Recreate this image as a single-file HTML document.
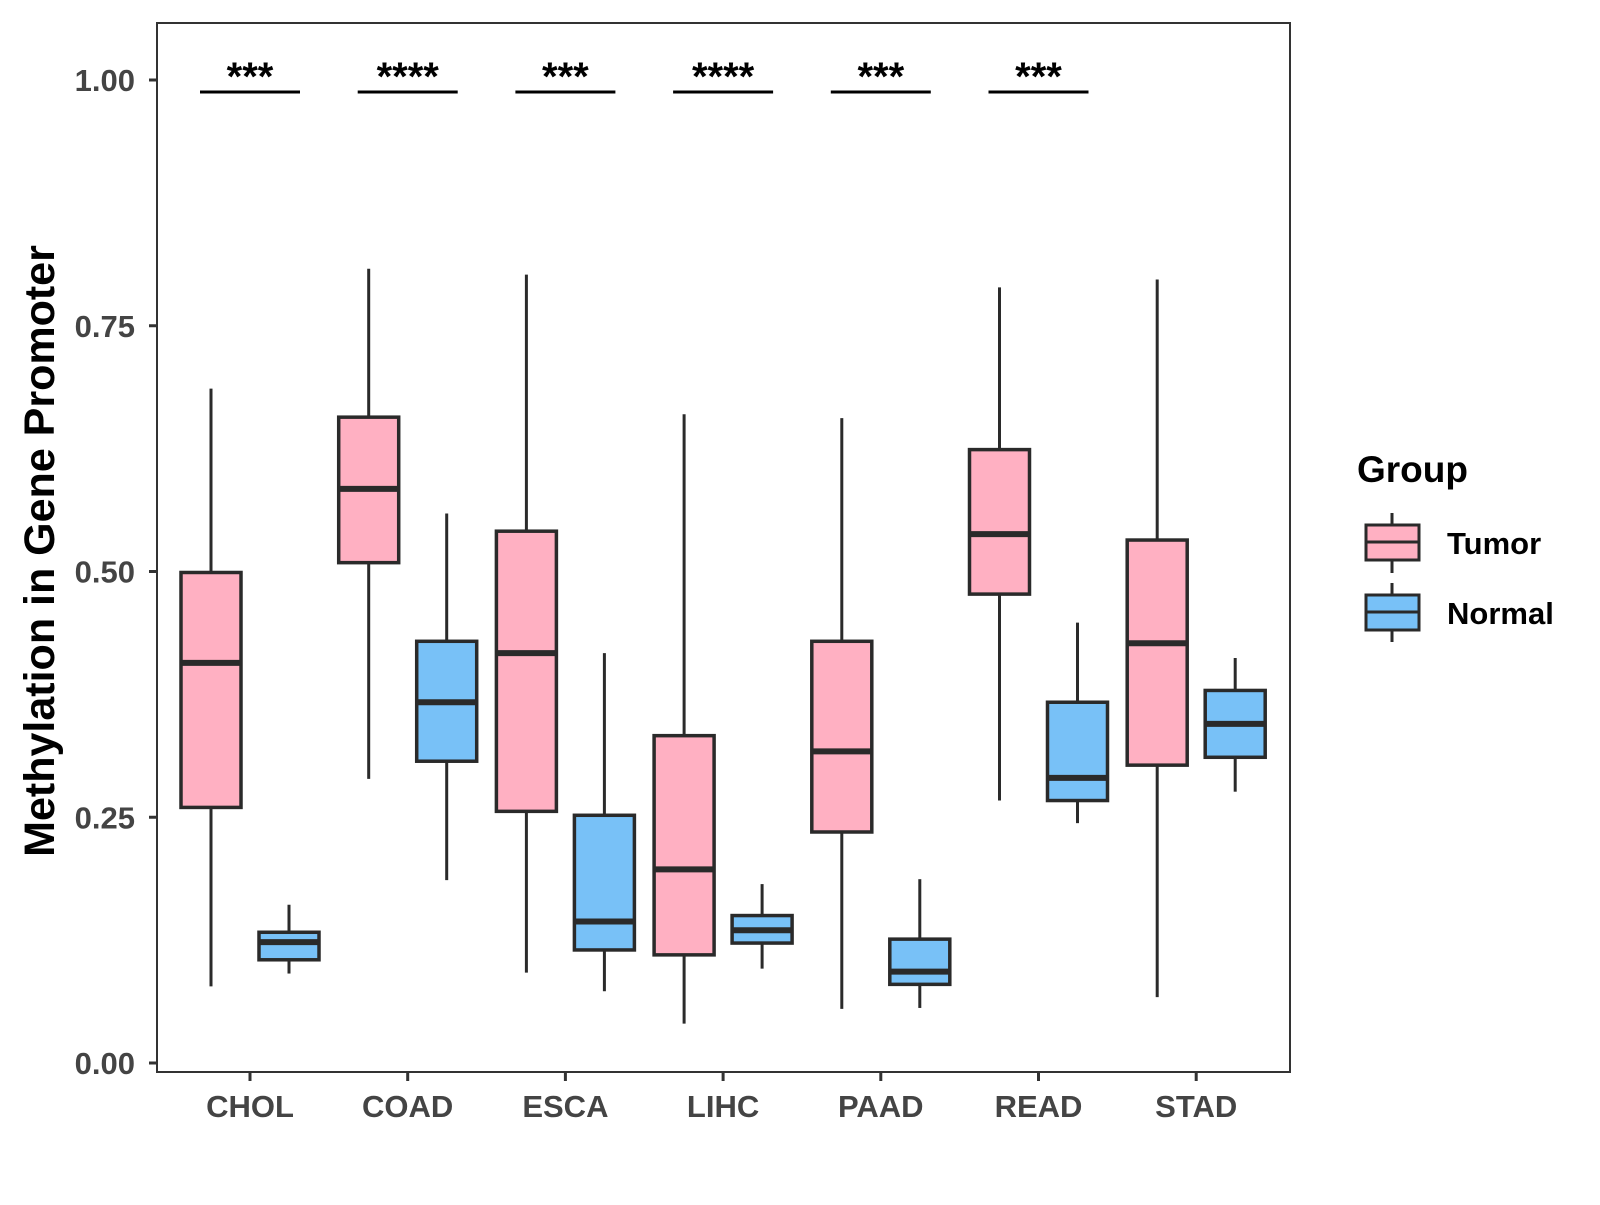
<!DOCTYPE html>
<html><head><meta charset="utf-8"><style>
body{margin:0;background:#fff;}
svg text{font-family:"Liberation Sans",Arial,sans-serif;font-weight:bold;}
</style></head><body>
<svg id="chart" width="1600" height="1200" xmlns="http://www.w3.org/2000/svg">
<rect x="0" y="0" width="1600" height="1200" fill="#fff"/>
<g id="plot"></g>
</svg>
<script>
const categories=["CHOL","COAD","ESCA","LIHC","PAAD","READ","STAD"];
// [lower whisker, Q1, median, Q3, upper whisker]
const tumorStats=[[0.078,0.260,0.407,0.499,0.686],[0.289,0.509,0.584,0.657,0.808],[0.092,0.256,0.417,0.541,0.802],[0.040,0.110,0.197,0.333,0.660],[0.055,0.235,0.317,0.429,0.656],[0.267,0.477,0.538,0.624,0.789],[0.067,0.303,0.427,0.532,0.797]];
const normalStats=[[0.091,0.105,0.123,0.133,0.161],[0.186,0.307,0.367,0.429,0.559],[0.073,0.115,0.144,0.252,0.417],[0.096,0.122,0.135,0.150,0.182],[0.056,0.080,0.093,0.126,0.187],[0.244,0.267,0.290,0.367,0.448],[0.276,0.311,0.345,0.379,0.412]];
const sigLabels=["***","****","***","****","***","***",""];
const yTicks=[0,0.25,0.5,0.75,1.0];
const yTickLabels=["0.00","0.25","0.50","0.75","1.00"];

const NS="http://www.w3.org/2000/svg";
const g=document.getElementById('plot');
const L=157,R=1290,T=23,B=1072;
const y=v=>1063-v*983;
const x=i=>250+i*157.7;
function el(tag,attrs,parent){const e=document.createElementNS(NS,tag);for(const k in attrs)e.setAttribute(k,attrs[k]);(parent||g).appendChild(e);return e;}

const panel=el('rect',{x:L,y:T,width:R-L,height:B-T,fill:'#fff',stroke:'#333',"stroke-width":2});



yTicks.forEach((v,i)=>{
  const t=el('line',{x1:L-8,x2:L,y1:y(v),y2:y(v),stroke:'#333',"stroke-width":3});
  
  
  const tx=el('text',{x:L-22,y:y(v)+11,"text-anchor":"end","font-size":31,fill:'#444'});
  tx.textContent=yTickLabels[i];
  
  
});
categories.forEach((c,i)=>{
  const t=el('line',{x1:x(i),x2:x(i),y1:B,y2:B+9,stroke:'#333',"stroke-width":3});
  
  
  const tx=el('text',{x:x(i),y:1117,"text-anchor":"middle","font-size":31,fill:'#444'});
  tx.textContent=c;
  
  
});

function box(cx,s,fill,name){
  const w=60;
  const grp=el('g',{});
  
  
  el('line',{x1:cx,x2:cx,y1:y(s[4]),y2:y(s[3]),stroke:'#2a2a2a',"stroke-width":3},grp);
  el('line',{x1:cx,x2:cx,y1:y(s[1]),y2:y(s[0]),stroke:'#2a2a2a',"stroke-width":3},grp);
  el('rect',{x:cx-w/2,y:y(s[3]),width:w,height:y(s[1])-y(s[3]),fill:fill,stroke:'#2a2a2a',"stroke-width":3.5},grp);
  el('line',{x1:cx-w/2,x2:cx+w/2,y1:y(s[2]),y2:y(s[2]),stroke:'#2a2a2a',"stroke-width":6},grp);
}
categories.forEach((c,i)=>{
  box(x(i)-39,tumorStats[i],'#FFB0C2','box-tumor-'+c.toLowerCase());
  box(x(i)+39,normalStats[i],'#78C1F7','box-normal-'+c.toLowerCase());
  if(sigLabels[i]){
    const ln=el('line',{x1:x(i)-50,x2:x(i)+50,y1:92,y2:92,stroke:'#000',"stroke-width":3});
    
    
    const st=el('text',{x:x(i),y:90,"text-anchor":"middle","font-size":40,fill:'#000'});
    st.textContent=sigLabels[i];
    
    
  }
});
</script>
<svg style="position:absolute;left:0;top:0" width="1600" height="1200" xmlns="http://www.w3.org/2000/svg">
<text transform="translate(54,551) rotate(-90)" text-anchor="middle" font-size="43" fill="#000">Methylation in Gene Promoter</text>
<g transform="translate(-6,-2)">
<text x="1363" y="484" font-size="37" fill="#000">Group</text>
<g>
<line x1="1398" x2="1398" y1="515" y2="575" stroke="#2a2a2a" stroke-width="3"/>
<rect x="1372" y="527" width="53" height="35" fill="#FFB0C2" stroke="#2a2a2a" stroke-width="3"/>
<line x1="1372" x2="1425" y1="544" y2="544" stroke="#2a2a2a" stroke-width="3"/>
<text x="1453" y="556" font-size="31" fill="#000">Tumor</text>
</g>
<g>
<line x1="1398" x2="1398" y1="585" y2="644" stroke="#2a2a2a" stroke-width="3"/>
<rect x="1372" y="597" width="53" height="35" fill="#78C1F7" stroke="#2a2a2a" stroke-width="3"/>
<line x1="1372" x2="1425" y1="614" y2="614" stroke="#2a2a2a" stroke-width="3"/>
<text x="1453" y="626" font-size="31" fill="#000">Normal</text>
</g>
</g>
</svg>
</body></html>
